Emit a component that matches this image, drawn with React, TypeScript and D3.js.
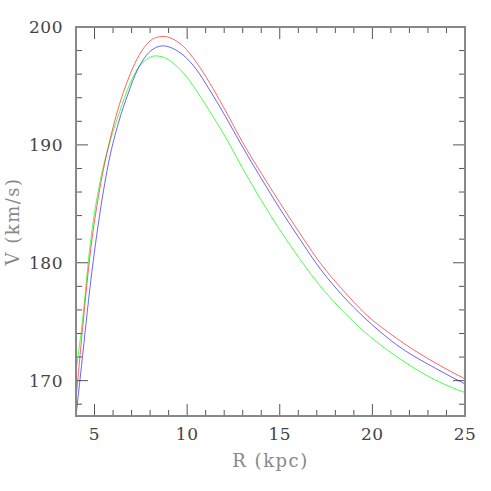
import React from "react";
import * as d3 from "d3";

const R = [4, 4.3, 4.8, 5.3, 5.8, 6.3, 6.8, 7.3, 7.8, 8.3, 8.7, 9.2, 9.8, 10.5, 11.2, 12.0, 13.0, 14.0, 15.0, 16.0, 17.2, 18.4, 19.6, 21.3, 23.4, 25];
const vRed = [168.4, 173.5, 181.2, 186.4, 190.2, 193.2, 195.5, 197.3, 198.5, 199.1, 199.2, 199.0, 198.35, 197.0, 195.3, 193.1, 190.2, 187.6, 185.1, 182.7, 179.95, 177.7, 175.7, 173.6, 171.5, 170.15];
const vBlue = [167.0, 171.3, 178.5, 184.3, 188.8, 191.9, 194.3, 196.3, 197.6, 198.25, 198.4, 198.2, 197.6, 196.4, 194.7, 192.6, 189.8, 187.15, 184.6, 182.2, 179.45, 177.2, 175.3, 173.05, 171.05, 169.72];
const vGreen = [170.8, 174.4, 182.0, 186.9, 190.1, 192.55, 194.75, 196.4, 197.25, 197.55, 197.45, 197.0, 196.1, 194.6, 192.9, 190.85, 188.0, 185.3, 182.8, 180.5, 178.0, 175.9, 174.1, 172.05, 170.05, 168.98];

const xMajor = [5, 10, 15, 20, 25];
const yMajor = [170, 180, 190, 200];
const xTitle = "R (kpc)";
const yTitle = "V (km/s)";

export default function App() {
  const W = 491, H = 491;
  const left = 76, right = 465, top = 27, bottom = 416;
  const x = d3.scaleLinear().domain([4, 25]).range([left, right]);
  const y = d3.scaleLinear().domain([167, 200]).range([bottom, top]);
  const line = (vals: number[]) =>
    d3.line<number>().x((_, i) => x(R[i])).y((v) => y(v)).curve(d3.curveMonotoneX)(vals) || "";

  const xMinor = d3.range(4, 25.001, 1);
  const yMinor = d3.range(168, 200.001, 2);
  const tickCol = "#555";
  const fontFam = "'DejaVu Serif', serif";

  return (
    <svg width={W} height={H} style={{ position: "absolute", left: 0, top: 0, background: "#fff" }}>
      <rect x={0} y={0} width={W} height={H} fill="#fff" />
      {xMinor.map((t) => {
        const major = xMajor.includes(t);
        const len = major ? 12 : 6;
        return (
          <g key={"xt" + t}>
            <line x1={x(t)} x2={x(t)} y1={bottom} y2={bottom - len} stroke={tickCol} strokeWidth={1} />
            <line x1={x(t)} x2={x(t)} y1={top} y2={top + len} stroke={tickCol} strokeWidth={1} />
          </g>
        );
      })}
      {yMinor.map((t) => {
        const major = yMajor.includes(t);
        const len = major ? 12 : 6;
        return (
          <g key={"yt" + t}>
            <line x1={left} x2={left + len} y1={y(t)} y2={y(t)} stroke={tickCol} strokeWidth={1} />
            <line x1={right} x2={right - len} y1={y(t)} y2={y(t)} stroke={tickCol} strokeWidth={1} />
          </g>
        );
      })}
      <path d={line(vGreen)} fill="none" stroke="#00ff00" strokeOpacity={0.7} strokeWidth={1} />
      <path d={line(vBlue)} fill="none" stroke="#0000ff" strokeOpacity={0.6} strokeWidth={1} />
      <path d={line(vRed)} fill="none" stroke="#ff0000" strokeOpacity={0.6} strokeWidth={1} />
      <rect x={left} y={top} width={right - left} height={bottom - top} fill="none" stroke="#888" strokeWidth={2} />
      {xMajor.map((t) => (
        <text key={"xl" + t} x={x(t)} y={440} textAnchor="middle" fontFamily={fontFam} fontSize={17} letterSpacing={0.5} fill="#444">
          {t}
        </text>
      ))}
      {yMajor.map((t) => (
        <text key={"yl" + t} x={63} y={y(t) + 6} textAnchor="end" fontFamily={fontFam} fontSize={17} letterSpacing={0.5} fill="#444">
          {t}
        </text>
      ))}
      <text x={(left + right) / 2} y={467} textAnchor="middle" fontFamily={fontFam} fontSize={18} letterSpacing={1.5} fill="#888">
        {xTitle}
      </text>
      <text
        transform={`translate(19, ${(top + bottom) / 2}) rotate(-90)`}
        textAnchor="middle"
        fontFamily={fontFam}
        fontSize={18}
        letterSpacing={1.5}
        fill="#888"
      >
        {yTitle}
      </text>
    </svg>
  );
}
